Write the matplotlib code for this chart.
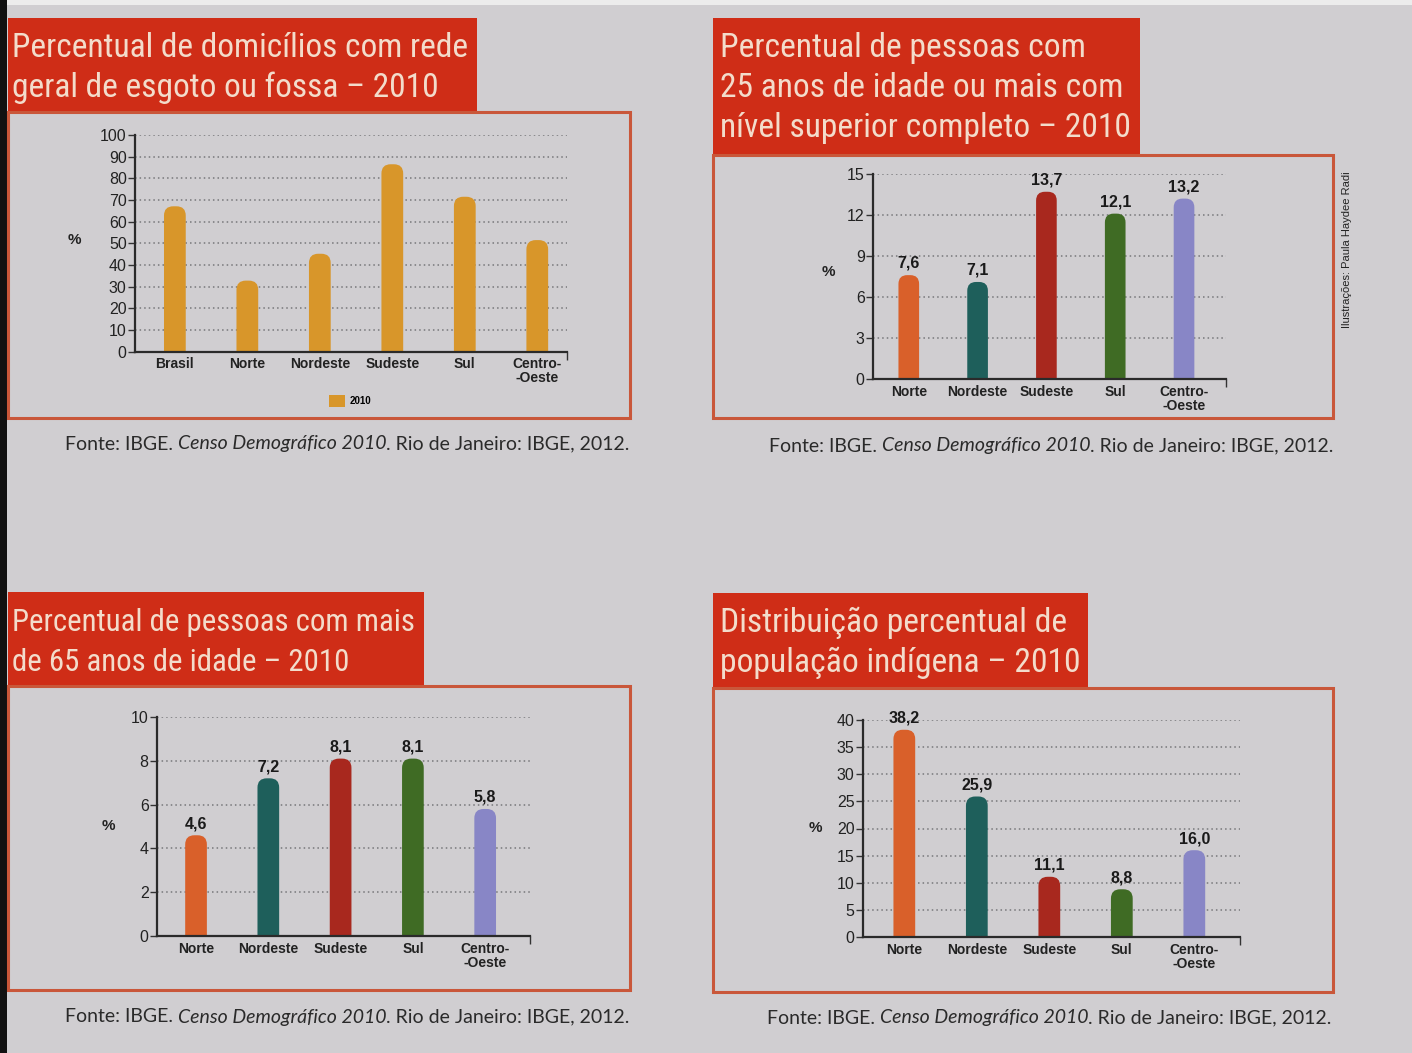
import matplotlib
matplotlib.use('Agg')
import matplotlib.pyplot as plt
from matplotlib import font_manager
from matplotlib.font_manager import FontProperties
from matplotlib.patches import Rectangle, FancyBboxPatch, BoxStyle, Patch

# dados (Censo 2010)
cats_esgoto = ['Brasil', 'Norte', 'Nordeste', 'Sudeste', 'Sul', 'Centro-\n-Oeste']
esgoto = [67.1, 32.8, 45.2, 86.5, 71.5, 51.5]

regioes = ['Norte', 'Nordeste', 'Sudeste', 'Sul', 'Centro-\n-Oeste']
superior = [7.6, 7.1, 13.7, 12.1, 13.2]
idosos = [4.6, 7.2, 8.1, 8.1, 5.8]
indigena = [38.2, 25.9, 11.1, 8.8, 16.0]

cores_regioes = ['#d9602a', '#1e5f5b', '#a8281e', '#3f6b24', '#8886c6']
cor_esgoto = '#d8962a'

titulos = [
    ['Percentual de domicílios com rede', 'geral de esgoto ou fossa – 2010'],
    ['Percentual de pessoas com', '25 anos de idade ou mais com', 'nível superior completo – 2010'],
    ['Percentual de pessoas com mais', 'de 65 anos de idade – 2010'],
    ['Distribuição percentual de', 'população indígena – 2010'],
]


def fonte_estreita():
    lst = font_manager.fontManager.ttflist
    for nome in ['Roboto Condensed', 'Liberation Sans Narrow', 'Open Sans Condensed']:
        for f in lst:
            if f.name == nome and f.style == 'normal' and f.weight in (400, 'normal', 'regular'):
                return FontProperties(fname=f.fname)
    for f in lst:
        if f.name == 'DejaVu Sans' and 'condensed' in str(f.stretch) and f.style == 'normal' \
                and f.weight in (400, 'normal', 'regular'):
            return FontProperties(fname=f.fname)
    return FontProperties(family='Roboto')


fp_titulo = fonte_estreita()
sans = 'Liberation Sans'

W, H = 1412, 1053
fig = plt.figure(figsize=(W / 100, H / 100), dpi=100)
bg = '#d0ced1'
fig.patch.set_facecolor(bg)
renderer = fig.canvas.get_renderer()


def fx(px):
    return px / W


def fy(py):
    return 1 - py / H


def box(x0, y0, x1, y1, **kw):
    fig.patches.append(Rectangle((fx(x0), fy(y1)), fx(x1) - fx(x0), fy(y0) - fy(y1),
                                 transform=fig.transFigure, **kw))


# bordas do scan
box(0, 0, W, 5, color='#ececec', lw=0)
box(0, 0, 7, H, color='#111111', lw=0)

red = '#cf2d17'
frame = '#c9573a'

# caixas de titulo e molduras
box(8, 18, 477, 112, color=red, lw=0)
box(8, 112, 630, 418, fill=False, edgecolor=frame, lw=2.2)
box(713, 18, 1140, 155, color=red, lw=0)
box(713, 155, 1333, 418, fill=False, edgecolor=frame, lw=2.2)
box(8, 592, 424, 686, color=red, lw=0)
box(8, 686, 630, 990, fill=False, edgecolor=frame, lw=2.2)
box(713, 593, 1088, 688, color=red, lw=0)
box(713, 688, 1333, 992, fill=False, edgecolor=frame, lw=2.2)

# (x inicial, topo da caixa, x final da linha mais larga)
title_pos = [(12, 18, 468), (720, 18, 1131), (12, 592, 415), (720, 593, 1080)]
for (tx, top, xr), linhas in zip(title_pos, titulos):
    ts = []
    for k, l in enumerate(linhas):
        t = fig.text(fx(tx), fy(top + 39 + 40 * k), l, color='#f3dccb', fontproperties=fp_titulo,
                     fontsize=22, ha='left', va='baseline')
        ts.append(t)
    larg = max(t.get_window_extent(renderer).width for t in ts)
    novo = min(22 * (xr - tx) / larg, 26)
    for t in ts:
        t.set_fontsize(novo)


def painel(left, right, y0, ytop, xlim, ylim, yticks, cats, vals, cores, rotulos):
    ax = fig.add_axes([fx(left), fy(y0), fx(right) - fx(left), fy(ytop) - fy(y0)])
    ax.patch.set_alpha(0)
    ax.set_xlim(*xlim)
    ax.set_ylim(*ylim)
    ax.set_yticks(yticks)
    ax.set_xticks(range(len(cats)))
    ax.set_xticklabels(cats, fontsize=10, fontweight='bold', family=sans,
                       color='#222222', linespacing=1.0)
    ax.tick_params(axis='x', length=0, pad=4)
    ax.tick_params(axis='y', length=5, width=1, colors='#333333', pad=1, labelsize=11.5)
    for lab in ax.get_yticklabels():
        lab.set_family(sans)
        lab.set_color('#222222')
    ax.set_xticks([xlim[1]], minor=True)
    ax.tick_params(axis='x', which='minor', length=6, width=1, color='#333333', direction='out')
    for s in ['top', 'right']:
        ax.spines[s].set_visible(False)
    for s in ['left', 'bottom']:
        ax.spines[s].set_color('#2a2a2a')
        ax.spines[s].set_linewidth(1.6)
    ax.yaxis.grid(True, linestyle=(0, (1, 2)), color='#77777a', lw=1.1)
    ax.set_axisbelow(True)

    pos = ax.get_position()
    wpx = pos.width * W
    hpx = pos.height * H
    aspect = ((ylim[1] - ylim[0]) / hpx) / ((xlim[1] - xlim[0]) / wpx)
    w = 0.3
    r = w / 2 * 0.85
    for i, (v, c) in enumerate(zip(vals, cores)):
        p = FancyBboxPatch((i - w / 2, -r * aspect), w, v + r * aspect,
                           boxstyle=BoxStyle.Round(pad=0, rounding_size=r),
                           mutation_aspect=aspect, facecolor=c, edgecolor='none', zorder=2)
        ax.add_patch(p)
        if rotulos:
            ax.annotate(f'{v:.1f}'.replace('.', ','), (i, v), xytext=(0, 3),
                        textcoords='offset points', ha='center', va='bottom',
                        fontsize=11.5, fontweight='bold', family=sans, color='#1a1a1a')
    return ax


painel(135, 567, 351.7, 135, (-0.55, 5.41), (0, 100), range(0, 101, 10),
       cats_esgoto, esgoto, [cor_esgoto] * 6, False)
painel(873, 1226, 379, 174, (-0.52, 4.61), (0, 15), range(0, 16, 3),
       regioes, superior, cores_regioes, True)
painel(157, 530, 936, 717, (-0.54, 4.62), (0, 10), range(0, 11, 2),
       regioes, idosos, cores_regioes, True)
painel(863, 1240, 937, 720, (-0.57, 4.63), (0, 40), range(0, 41, 5),
       regioes, indigena, cores_regioes, True)

for px, py in [(74, 240), (828, 272), (108, 826), (815, 828)]:
    fig.text(fx(px), fy(py), '%', fontsize=11, fontweight='bold', family=sans,
             color='#222222', ha='center', va='center')

fig.legend(handles=[Patch(facecolor=cor_esgoto, label='2010')], loc='center',
           bbox_to_anchor=(fx(350), fy(401)), frameon=False, handlelength=1.6,
           handleheight=1.6, handletextpad=0.5,
           prop={'size': 7, 'weight': 'bold', 'family': sans})

fig.text(fx(1347), fy(250), 'Ilustrações: Paula Haydee Radi', rotation=90,
         fontsize=8, family=sans, color='#222222', ha='center', va='center')

# fonte (com trecho em itálico), ajustada a largura da linha
fonte = [('Fonte: IBGE. ', 'normal'), ('Censo Demográfico 2010', 'italic'),
         ('. Rio de Janeiro: IBGE, 2012.', 'normal')]
larg_alvo = 563
base = 12
larg = 0
for txt, st in fonte:
    t = fig.text(0, 0, txt, fontsize=base, family='Lato', style=st)
    larg += t.get_window_extent(renderer).width
    t.remove()
tam = base * larg_alvo / larg
for sx, sy in [(65, 444), (769, 446), (65, 1017), (767, 1018)]:
    x = fx(sx)
    for txt, st in fonte:
        t = fig.text(x, fy(sy), txt, fontsize=tam, family='Lato', style=st,
                     color='#2a2a2a', ha='left', va='center')
        x += t.get_window_extent(renderer).width / W

fig.savefig('out.png', dpi=100, facecolor=fig.get_facecolor())
